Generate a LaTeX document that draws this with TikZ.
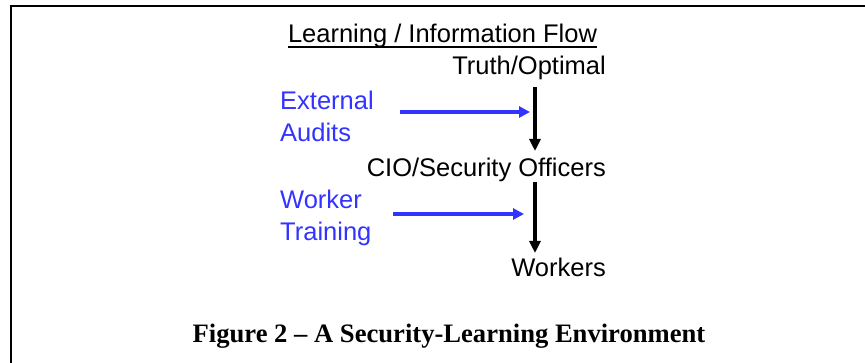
\documentclass[tikz,border=0pt]{standalone}
\usepackage{fontspec}
\setmainfont{Liberation Sans}
\newfontfamily\captionfont{Liberation Serif}
\usetikzlibrary{arrows.meta}
\definecolor{flowblue}{RGB}{51,51,255}
\begin{document}
\begin{tikzpicture}[x=1pt,y=-1pt,
  lbl/.style={inner sep=0pt, font=\fontsize{25.5}{30}\selectfont},
  side/.style={lbl, text=flowblue, anchor=base west},
  level/.style={lbl, anchor=base east},
  downflow/.style={line width=3.5pt, -{Triangle[length=12pt,width=11pt]}},
  inflow/.style={draw=flowblue, line width=4pt, -{Triangle[length=11pt,width=11pt]}}]
\useasboundingbox (0,0) rectangle (865,363);
% frame: top and left edges only
\draw[line width=2.5pt] (865,6) -- (11,6) -- (11,363);

% heading
\node[lbl, anchor=base] (head) at (442.5,43) {Learning / Information Flow};
\draw[line width=1.8pt] ([yshift=-4pt]head.base west) -- ([yshift=-4pt]head.base east);

% levels of the flow
\node[level] (truth) at (606,75) {Truth/Optimal};
\node[level] (cio) at (606,177) {CIO/Security Officers};
\node[level] (workers) at (606,277) {Workers};

% external influences
\node[side] (ext1) at (280,110) {External};
\node[side] (ext2) at (280,142) {Audits};
\node[side] (wrk1) at (280,209) {Worker};
\node[side] (wrk2) at (280,241) {Training};

% arrow end points
\coordinate (a1) at (535,87);
\coordinate (b1) at (535,151);
\coordinate (a2) at (535,182);
\coordinate (b2) at (535,253);
\coordinate (e1) at (400,112);
\coordinate (f1) at (530,112);
\coordinate (e2) at (393,214);
\coordinate (f2) at (524,214);

\draw[downflow] (a1) -- (b1);
\draw[downflow] (a2) -- (b2);
\draw[inflow] (e1) -- (f1);
\draw[inflow] (e2) -- (f2);

% caption
\node[inner sep=0pt, anchor=base, font=\captionfont\bfseries\fontsize{26.6}{30}\selectfont] (cap) at (449,342)
  {Figure 2 \textendash{} A Security-Learning Environment};
\end{tikzpicture}
\end{document}
